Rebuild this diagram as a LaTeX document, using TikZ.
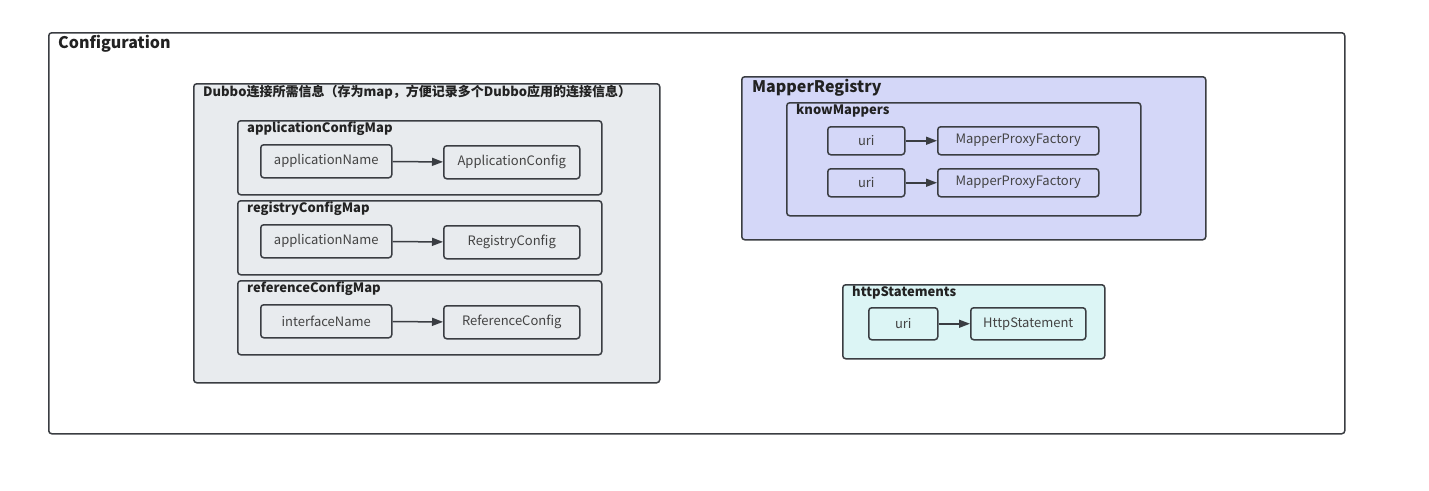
\documentclass[tikz,border=0pt]{standalone}
\usepackage{fontspec}
\setmainfont{Noto Sans CJK SC}
\usetikzlibrary{arrows.meta,positioning}
\definecolor{edge}{HTML}{3A3D42}
\definecolor{ink}{HTML}{222222}
\definecolor{greyfill}{HTML}{E8EBEE}
\definecolor{lavender}{HTML}{D4D7F8}
\definecolor{aqua}{HTML}{DCF5F5}
\begin{document}
\begin{tikzpicture}[x=1pt, y=-1pt,
    box/.style={draw=edge, line width=1.5pt, rounded corners=3pt, anchor=north west, inner sep=0pt},
    title/.style={anchor=west, inner sep=0pt, text=ink, font=\fontsize{13}{15}\selectfont\bfseries},
    item/.style={draw=edge, line width=1.5pt, rounded corners=3pt, anchor=north west, inner sep=0pt,
        minimum height=33pt, text=ink!85, font=\fontsize{13}{15}\selectfont},
    link/.style={draw=edge, line width=1.5pt, -{Triangle[length=11pt, width=8pt]}}]
    \useasboundingbox (0,0) rectangle (1429,490);

    % Outer frame
    \node[box, fill=white, minimum width=1296pt, minimum height=401pt] (conf) at (48,32) {};
    \node[title, font=\fontsize{16}{18}\selectfont\bfseries] (conf-t) at ([xshift=10pt, yshift=-12pt]conf.north west) {Configuration};

    % Left: Dubbo maps
    \node[box, fill=greyfill, minimum width=466pt, minimum height=299pt] (dubbo) at (193,83) {};
    \node[title] (dubbo-t) at ([xshift=10pt, yshift=-9pt]dubbo.north west) {Dubbo连接所需信息（存为map，方便记录多个Dubbo应用的连接信息）};
    \foreach \m/\t/\k/\v [count=\i from 0] in {appMap/applicationConfigMap/applicationName/ApplicationConfig,
        regMap/registryConfigMap/applicationName/RegistryConfig,
        refMap/referenceConfigMap/interfaceName/ReferenceConfig} {
        \pgfmathsetmacro\ytop{120+80*\i}
        \node[box, fill=greyfill, minimum width=364pt, minimum height=74pt] (\m) at (237,\ytop) {};
        \node[title] (\m-t) at ([xshift=10pt, yshift=-9pt]\m.north west) {\t};
        \node[item, fill=greyfill, minimum width=131pt] (\m-k) at ([xshift=23pt, yshift=-24pt]\m.north west) {\k};
        \node[item, fill=greyfill, minimum width=136pt] (\m-v) at ([xshift=206pt, yshift=-25pt]\m.north west) {\v};
        \draw[link] (\m-k) -- (\m-v);
    }

    % Right: MapperRegistry
    \node[box, fill=lavender, minimum width=464pt, minimum height=163pt] (reg) at (741,76) {};
    \node[title, font=\fontsize{16}{18}\selectfont\bfseries] (reg-t) at ([xshift=11pt, yshift=-12pt]reg.north west) {MapperRegistry};
    \node[box, fill=lavender, minimum width=354pt, minimum height=113pt] (know) at (786,102) {};
    \node[title] (know-t) at ([xshift=10pt, yshift=-9pt]know.north west) {knowMappers};
    \foreach \y [count=\i] in {126,168} {
        \node[item, fill=lavender, minimum width=77pt, minimum height=28pt] (uri\i) at (827,\y) {uri};
        \node[item, fill=lavender, minimum width=161pt, minimum height=28pt] (mpf\i) at (937,\y) {MapperProxyFactory};
        \draw[link] (uri\i) -- (mpf\i);
    }

    % httpStatements
    \node[box, fill=aqua, minimum width=262pt, minimum height=74pt] (http) at (842,284) {};
    \node[title] (http-t) at ([xshift=10pt, yshift=-9pt]http.north west) {httpStatements};
    \node[item, fill=aqua, minimum width=69pt, minimum height=32pt] (uri3) at (868,307) {uri};
    \node[item, fill=aqua, minimum width=115pt, minimum height=32pt] (stmt) at (970,307) {HttpStatement};
    \draw[link] (uri3) -- (stmt);
\end{tikzpicture}
\end{document}
